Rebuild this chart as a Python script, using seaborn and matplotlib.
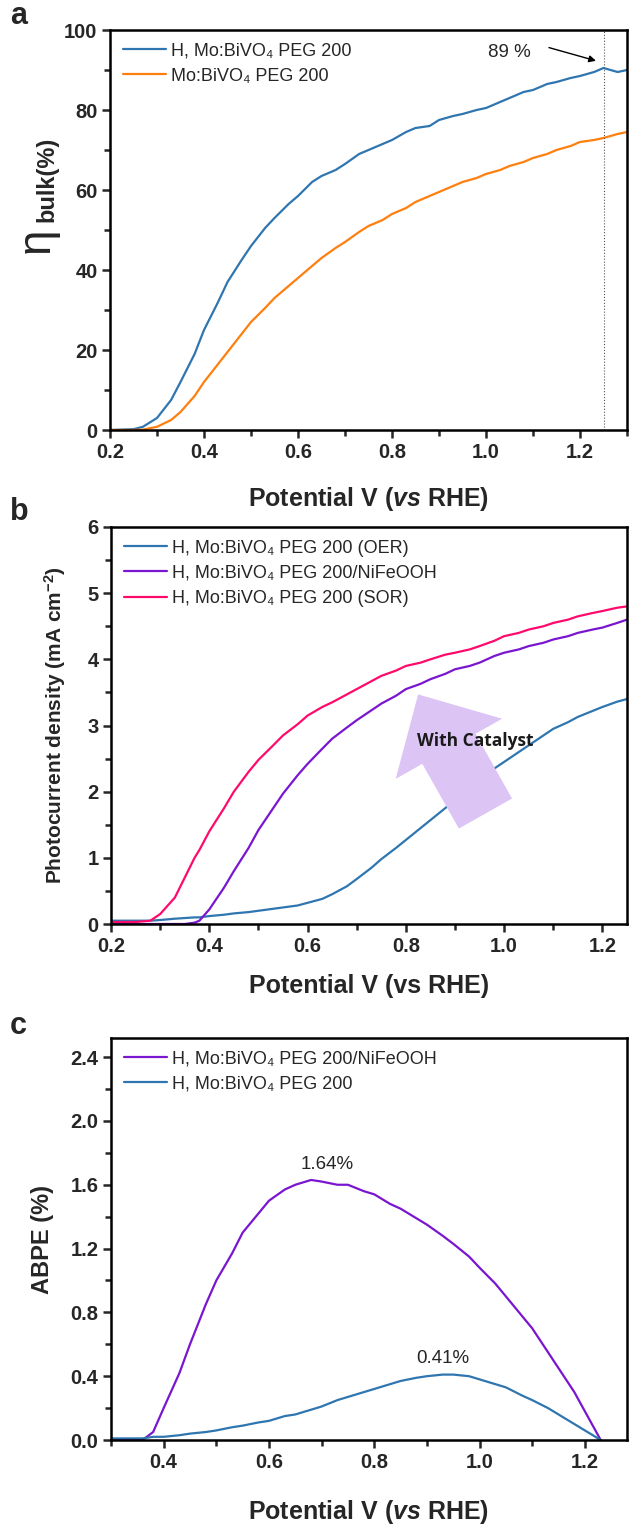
import numpy as np
import pandas as pd
import matplotlib
matplotlib.use("Agg")
import matplotlib.pyplot as plt
from matplotlib.ticker import MultipleLocator, FormatStrFormatter
import seaborn as sns

# ---- data ----
# panel a : bulk efficiency (%)
v_a = [0.20, 0.25, 0.27, 0.30, 0.33, 0.35, 0.38, 0.40, 0.43, 0.45, 0.48, 0.50, 0.53, 0.55, 0.58,
       0.60, 0.63, 0.65, 0.68, 0.70, 0.73, 0.75, 0.78, 0.80, 0.83, 0.85, 0.88, 0.90, 0.93, 0.95,
       0.98, 1.00, 1.03, 1.05, 1.08, 1.10, 1.13, 1.15, 1.18, 1.20, 1.23, 1.25, 1.28, 1.30]
eta_h = [0.0, 0.2, 0.8, 3.0, 7.5, 12.0, 19.0, 25.0, 32.0, 37.0, 42.5, 46.0, 50.5, 53.0, 56.5,
         58.5, 62.0, 63.5, 65.0, 66.5, 69.0, 70.0, 71.5, 72.5, 74.5, 75.5, 76.0, 77.5, 78.5, 79.0,
         80.0, 80.5, 82.0, 83.0, 84.5, 85.0, 86.5, 87.0, 88.0, 88.5, 89.5, 90.5, 89.5, 90.0]
eta_mo = [0.0, 0.0, 0.1, 0.8, 2.5, 4.5, 8.5, 12.0, 16.5, 19.5, 24.0, 27.0, 30.5, 33.0, 36.0,
          38.0, 41.0, 43.0, 45.5, 47.0, 49.5, 51.0, 52.5, 54.0, 55.5, 57.0, 58.5, 59.5, 61.0, 62.0,
          63.0, 64.0, 65.0, 66.0, 67.0, 68.0, 69.0, 70.0, 71.0, 72.0, 72.5, 73.0, 74.0, 74.5]

# panel b : photocurrent density (mA cm-2)
v_b = [0.20, 0.25, 0.28, 0.30, 0.33, 0.35, 0.37, 0.38, 0.40, 0.43, 0.45, 0.48, 0.50, 0.53, 0.55,
       0.58, 0.60, 0.63, 0.65, 0.68, 0.70, 0.73, 0.75, 0.78, 0.80, 0.83, 0.85, 0.88, 0.90, 0.93,
       0.95, 0.98, 1.00, 1.03, 1.05, 1.08, 1.10, 1.13, 1.15, 1.18, 1.20, 1.23, 1.25]
j_oer = [0.05, 0.05, 0.05, 0.06, 0.08, 0.09, 0.10, 0.10, 0.12, 0.14, 0.16, 0.18, 0.20, 0.23, 0.25,
         0.28, 0.32, 0.38, 0.45, 0.57, 0.68, 0.85, 0.98, 1.15, 1.27, 1.45, 1.57, 1.75, 1.87, 2.05,
         2.17, 2.35, 2.45, 2.60, 2.70, 2.85, 2.95, 3.05, 3.13, 3.22, 3.28, 3.36, 3.40]
j_nife = [0.00, 0.00, 0.00, 0.00, 0.00, 0.00, 0.02, 0.05, 0.22, 0.55, 0.80, 1.15, 1.42, 1.75, 1.97,
          2.25, 2.42, 2.65, 2.80, 2.97, 3.08, 3.23, 3.33, 3.45, 3.55, 3.63, 3.70, 3.78, 3.85, 3.90,
          3.95, 4.05, 4.10, 4.15, 4.20, 4.25, 4.30, 4.35, 4.40, 4.45, 4.48, 4.55, 4.60]
j_sor = [0.03, 0.03, 0.05, 0.15, 0.40, 0.70, 1.00, 1.12, 1.40, 1.75, 2.00, 2.30, 2.48, 2.70, 2.85,
         3.02, 3.15, 3.28, 3.35, 3.47, 3.55, 3.67, 3.75, 3.83, 3.90, 3.95, 4.00, 4.07, 4.10, 4.15,
         4.20, 4.28, 4.35, 4.40, 4.45, 4.50, 4.55, 4.60, 4.65, 4.70, 4.73, 4.78, 4.80]

# panel c : ABPE (%)
v_c = [0.30, 0.33, 0.36, 0.38, 0.40, 0.43, 0.45, 0.48, 0.50, 0.53, 0.55, 0.58, 0.60, 0.63, 0.65,
       0.68, 0.70, 0.73, 0.75, 0.78, 0.80, 0.83, 0.85, 0.88, 0.90, 0.93, 0.95, 0.98, 1.00, 1.03,
       1.05, 1.08, 1.10, 1.13, 1.15, 1.18, 1.20, 1.23]
abpe_nife = [0.00, 0.00, 0.00, 0.05, 0.20, 0.42, 0.60, 0.85, 1.00, 1.17, 1.30, 1.42, 1.50, 1.57, 1.60,
             1.63, 1.62, 1.60, 1.60, 1.56, 1.54, 1.48, 1.45, 1.39, 1.35, 1.28, 1.23, 1.15, 1.08, 0.98,
             0.90, 0.78, 0.70, 0.55, 0.45, 0.30, 0.18, 0.00]
abpe_h = [0.01, 0.01, 0.01, 0.02, 0.02, 0.03, 0.04, 0.05, 0.06, 0.08, 0.09, 0.11, 0.12, 0.15, 0.16,
          0.19, 0.21, 0.25, 0.27, 0.30, 0.32, 0.35, 0.37, 0.39, 0.40, 0.41, 0.41, 0.40, 0.38, 0.35,
          0.33, 0.28, 0.25, 0.20, 0.16, 0.10, 0.06, 0.00]

lab_h = "H, Mo:BiVO\u2084 PEG 200"
lab_mo = "Mo:BiVO\u2084 PEG 200"
lab_oer = "H, Mo:BiVO\u2084 PEG 200 (OER)"
lab_nife = "H, Mo:BiVO\u2084 PEG 200/NiFeOOH"
lab_sor = "H, Mo:BiVO\u2084 PEG 200 (SOR)"

c_blue = "#2f76b0"
c_orange = "#ff7f0e"
c_purple = "#7a16d0"
c_pink = "#ff0a6c"

sns.set_style("ticks")
plt.rcParams["font.family"] = ["Liberation Sans", "DejaVu Sans"]
plt.rcParams["mathtext.fontset"] = "custom"
plt.rcParams["mathtext.rm"] = "Liberation Sans"
plt.rcParams["mathtext.bf"] = "Liberation Sans:bold"
plt.rcParams["mathtext.it"] = "Liberation Sans:italic"
plt.rcParams["mathtext.bfit"] = "Liberation Sans:bold:italic"

W, H = 632, 1529
fig = plt.figure(figsize=(W / 100, H / 100), dpi=100)


def box(l, t, r, b):
    return [l / W, 1 - b / H, (r - l) / W, (b - t) / H]


ax_a = fig.add_axes(box(110, 30, 627, 430))
ax_b = fig.add_axes(box(111, 527, 627, 924))
ax_c = fig.add_axes(box(111, 1038, 627, 1440))

df_a = pd.DataFrame({"V": v_a * 2, "val": eta_h + eta_mo,
                     "s": [lab_h] * len(v_a) + [lab_mo] * len(v_a)})
sns.lineplot(data=df_a, x="V", y="val", hue="s", palette=[c_blue, c_orange],
             estimator=None, sort=False, lw=1.6, ax=ax_a)

df_b = pd.DataFrame({"V": v_b * 3, "val": j_oer + j_nife + j_sor,
                     "s": [lab_oer] * len(v_b) + [lab_nife] * len(v_b) + [lab_sor] * len(v_b)})
sns.lineplot(data=df_b, x="V", y="val", hue="s", palette=[c_blue, c_purple, c_pink],
             estimator=None, sort=False, lw=1.6, ax=ax_b)

df_c = pd.DataFrame({"V": v_c * 2, "val": abpe_nife + abpe_h,
                     "s": [lab_nife] * len(v_c) + [lab_h] * len(v_c)})
sns.lineplot(data=df_c, x="V", y="val", hue="s", palette=[c_purple, c_blue],
             estimator=None, sort=False, lw=1.6, ax=ax_c)

xlab_it = r"Potential V $\mathbf{(}\mathbfit{vs}$ RHE$\mathbf{)}$"

setup = [
    (ax_a, (0.2, 1.3), (0, 100), 0.2, 0.1, 20, 10, "%d", xlab_it, 17),
    (ax_b, (0.2, 1.25), (0, 6), 0.2, 0.1, 1, 0.5, "%d", "Potential V (vs RHE)", 13),
    (ax_c, (0.3, 1.28), (0, 2.52), 0.2, 0.1, 0.4, 0.2, "%.1f", xlab_it, 19),
]
for ax, xl, yl, xM, xm, yM, ym, yfmt, xlab, pad in setup:
    ax.set_xlim(*xl)
    ax.set_ylim(*yl)
    ax.xaxis.set_major_locator(MultipleLocator(xM))
    ax.xaxis.set_minor_locator(MultipleLocator(xm))
    ax.yaxis.set_major_locator(MultipleLocator(yM))
    ax.yaxis.set_minor_locator(MultipleLocator(ym))
    ax.xaxis.set_major_formatter(FormatStrFormatter("%.1f"))
    ax.yaxis.set_major_formatter(FormatStrFormatter(yfmt))
    ax.tick_params(which="both", direction="out", width=1.8, top=False, right=False)
    ax.tick_params(which="major", length=6, labelsize=14.5, pad=3)
    ax.tick_params(which="minor", length=4)
    for t in ax.get_xticklabels() + ax.get_yticklabels():
        t.set_fontweight("bold")
    for s in ax.spines.values():
        s.set_visible(True)
        s.set_linewidth(1.8)
        s.set_color("black")
    ax.set_xlabel(xlab, fontsize=18, fontweight="bold", labelpad=pad)
    ax.set_ylabel("")
    ax.legend(loc="upper left", frameon=False, fontsize=13, handlelength=2.4,
              handletextpad=0.3, labelspacing=0.45, borderaxespad=0.3)

# panel a extras
ax_a.axvline(1.25, color="#555555", lw=0.8, ls=":")
ax_a.annotate("", xy=(1.234, 92.3), xytext=(1.134, 95.6),
              arrowprops=dict(arrowstyle="-|>", color="black", lw=1.0,
                              shrinkA=0, shrinkB=0, mutation_scale=10))
ax_a.text(1.049, 94.3, "89 %", fontsize=13.5, ha="center", va="center")
fig.text(37 / W, 1 - 240 / H, "\u03b7", fontsize=33, rotation=90, ha="center", va="center")
fig.text(47 / W, 1 - 222 / H, "bulk(%)", fontsize=17, fontweight="bold", rotation=90,
         ha="center", va="bottom")

# panel b extras
ax_b.set_ylabel(r"Photocurrent density (mA cm$^{\mathbf{-2}}$)", fontsize=15,
                fontweight="bold", labelpad=14)
ax_b.annotate("", xy=(0.825, 3.47), xytext=(0.962, 1.67),
              arrowprops=dict(arrowstyle="simple,head_length=45,head_width=88,tail_width=44",
                              fc="#dcc4f4", ec="none",
                              shrinkA=0, shrinkB=0, mutation_scale=1))
ax_b.text(0.941, 2.76, "With Catalyst", fontsize=12.5, fontweight="bold",
          family=["Open Sans", "DejaVu Sans"], ha="center", va="center", color="#1a1a1a")

# panel c extras
ax_c.set_ylabel("ABPE (%)", fontsize=17, fontweight="bold", labelpad=12)
ax_c.text(0.71, 1.73, "1.64%", fontsize=13.5, ha="center", va="center")
ax_c.text(0.93, 0.51, "0.41%", fontsize=13.5, ha="center", va="center")

# panel letters
for letter, y in [("a", 16), ("b", 512), ("c", 1026)]:
    fig.text(10 / W, 1 - y / H, letter, fontsize=22, fontweight="bold", ha="left", va="center")

fig.savefig("out.png", dpi=100)
